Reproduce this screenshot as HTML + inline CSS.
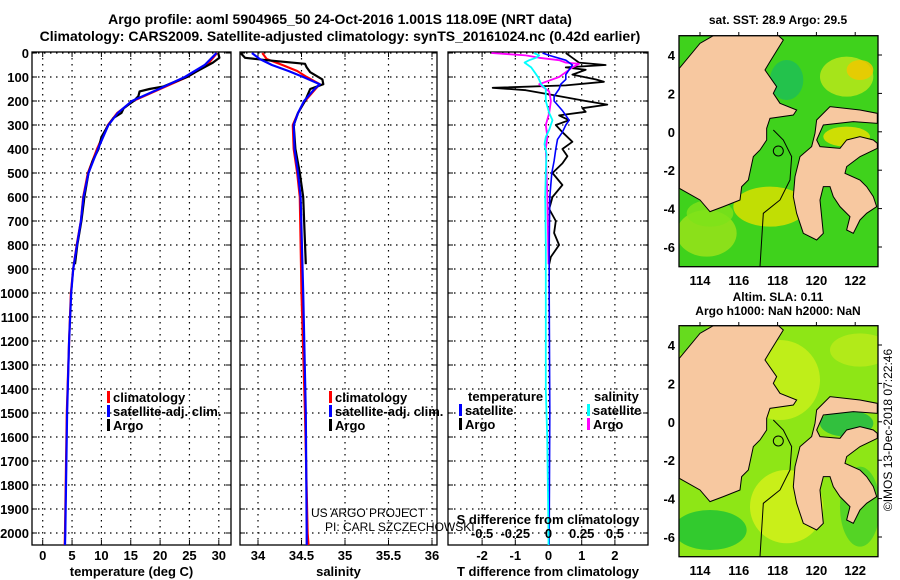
<!DOCTYPE html>
<html><head><meta charset="utf-8">
<style>
html,body{margin:0;padding:0;background:#fff;}
svg{display:block;font-family:"Liberation Sans",Arial,sans-serif;}
.b{font-weight:bold;font-size:13px;}
</style></head>
<body>
<svg id="c" width="900" height="580" viewBox="0 0 900 580" xmlns="http://www.w3.org/2000/svg">
<text x="340" y="24" text-anchor="middle" class="b" style="font-size:14px">Argo profile: aoml 5904965_50 24-Oct-2016 1.001S 118.09E (NRT data)</text>
<text x="340" y="41" text-anchor="middle" class="b" style="font-size:14px">Climatology: CARS2009. Satellite-adjusted climatology: synTS_20161024.nc (0.42d earlier)</text>
<g id="maps"></g>
<g id="plots"></g>
<text transform="translate(892,430) rotate(-90)" text-anchor="middle" style="font-size:12px">©IMOS 13-Dec-2018 07:22:46</text>
</svg>
<script>
// ---- data ----
const climDepth=[0,50,100,150,200,250,300,400,500,600,700,800,900,1000,1200,1500,2000,2050];
const climTemp=[29.7,28.0,24.6,20.0,15.4,12.7,11.1,9.25,7.7,6.9,6.5,5.8,5.2,4.8,4.5,4.1,3.8,3.75];
const satTemp=[29.6,27.6,24.2,19.8,15.2,12.8,11.2,9.4,7.8,6.95,6.5,5.85,5.2,4.85,4.5,4.15,3.85,3.8];
const argoDepth=[0,20,40,60,80,100,120,140,150,160,180,200,230,250,270,300,350,400,450,500,600,700,800,880];
const argoTemp=[29.9,30.1,29.0,27.5,26.0,24.6,22.5,20.5,18.2,16.5,16.3,15.5,13.8,13.4,12.1,11.2,10.0,9.5,8.5,7.8,7.1,6.6,5.9,5.5];
const climSalDepth=[0,25,50,75,100,130,150,200,250,300,400,500,600,1000,1500,2000,2050];
const climSal=[34.05,34.1,34.28,34.45,34.56,34.71,34.66,34.54,34.46,34.4,34.41,34.45,34.48,34.5,34.54,34.57,34.58];
const satSal=[33.93,34.02,34.16,34.35,34.52,34.71,34.65,34.53,34.46,34.41,34.42,34.46,34.49,34.52,34.55,34.56,34.56];
const argoSalDepth=[0,20,30,45,60,80,110,130,150,200,250,300,400,500,600,880];
const argoSal=[33.8,33.85,34.1,34.54,34.56,34.6,34.74,34.75,34.6,34.54,34.46,34.41,34.43,34.48,34.52,34.55];
const dTDepthArgo=[0,20,40,50,60,70,90,110,120,135,145,155,170,185,200,215,230,245,260,280,300,330,370,400,430,460,500,550,600,650,700,750,800,850,880];
const dTArgo=[0.52,0.72,0.92,1.72,0.52,1.12,0.72,1.42,1.67,0.52,-1.68,-0.68,-0.08,0.52,1.12,1.77,1.02,1.12,0.32,0.62,0.22,0.42,0.72,0.42,0.57,0.42,0.12,0.42,0.12,0.02,0.22,0.17,0.32,0.07,0.02];
const dTDepthSat=[0,10,30,50,70,90,110,130,150,180,200,240,260,280,300,330,360,400,450,500,600,800,1000,1500,2000,2050];
const dTSat=[-0.18,0.02,0.52,0.72,0.62,0.52,0.52,0.37,0.32,0.17,0.17,0.42,0.52,0.62,0.52,0.42,0.27,0.22,0.17,0.1,0.04,0.02,0.02,0.04,0.02,0.02];
const dSDepthArgo=[0,5,10,20,30,40,45,60,80,100,120,130,140,160,200,250,300,350,400,500,600,880];
const dSArgo=[-0.43,-0.30,-0.17,-0.07,0.08,0.13,0.23,0.18,0.13,0.08,-0.02,-0.07,-0.045,0.005,0.018,0.005,-0.02,-0.008,-0.02,-0.015,-0.008,0];
const dSDepthSat=[0,10,20,30,40,60,80,100,130,150,200,250,280,320,350,380,420,500,600,800,1000,1400,1600,2000,2050];
const dSSat=[-0.11,-0.07,-0.095,-0.145,-0.18,-0.13,-0.105,-0.08,-0.055,-0.02,-0.02,0.005,0.03,0.005,-0.02,-0.03,-0.015,-0.02,-0.025,-0.02,-0.02,-0.02,-0.01,0,0];
const depthTicks=[0,100,200,300,400,500,600,700,800,900,1000,1100,1200,1300,1400,1500,1600,1700,1800,1900,2000];
const tempTicks=[0,5,10,15,20,25,30];
const salTicks=[34,34.5,35,35.5,36];
const dTTicks=[-2,-1,0,1,2];
const dSTicks=[-0.5,-0.25,0,0.25,0.5];
const dSTickLabels=["-0.5","-0.25","0","0.25","0.5"];

const NS="http://www.w3.org/2000/svg";
const plots=document.getElementById('plots');
function mk(tag,attrs,parent){const e=document.createElementNS(NS,tag);for(const k in attrs)e.setAttribute(k,attrs[k]);(parent||plots).appendChild(e);return e;}
const yD=d=>53+d*0.24;
const TOP=52,BOT=545;
const xT=t=>42.7+t*5.87;
const xS=s=>258+(s-34)*87;
const xDT=t=>548.5+t*33.2;
const xDS=s=>548.5+s*132.8;

function panel(name,x0,x1,ticks,xf,labels,title,ydepthLabels){
  const g=mk('g',{});
  
  
  depthTicks.forEach(d=>{const l=mk('line',{x1:x0,x2:x1,y1:yD(d),y2:yD(d),stroke:'#000','stroke-dasharray':'1.5,4.5','stroke-width':1.2},g);
    
    mk('line',{x1:x0,x2:x0+5,y1:yD(d),y2:yD(d),stroke:'#000'},g);mk('line',{x1:x1-5,x2:x1,y1:yD(d),y2:yD(d),stroke:'#000'},g);
    if(ydepthLabels){const t=mk('text',{x:x0-3,y:yD(d)+5,'text-anchor':'end',class:'b'},g);t.textContent=d;
      }
  });
  ticks.forEach((v,i)=>{const x=xf(v);mk('line',{x1:x,x2:x,y1:TOP,y2:BOT,stroke:'#000','stroke-dasharray':'1.5,4.5','stroke-width':1.2},g);
    mk('line',{x1:x,x2:x,y1:BOT-5,y2:BOT,stroke:'#000'},g);mk('line',{x1:x,x2:x,y1:TOP,y2:TOP+5,stroke:'#000'},g);
    if(labels){const t=mk('text',{x:x,y:560,'text-anchor':'middle',class:'b'},g);t.textContent=labels[i];
      }
  });
  mk('rect',{x:x0,y:TOP,width:x1-x0,height:BOT-TOP,fill:'none',stroke:'#000','stroke-width':1.3},g);
  const tt=mk('text',{x:(x0+x1)/2,y:576,'text-anchor':'middle',class:'b'},g);tt.textContent=title;
  
  return g;
}
function line(g,name,depths,vals,xf,color,w){
  const pts=depths.map((d,i)=>xf(vals[i]).toFixed(1)+','+yD(d).toFixed(1)).join(' ');
  const p=mk('polyline',{points:pts,fill:'none',stroke:color,'stroke-width':w||2.2,'stroke-linejoin':'round'},g);
  
}
function legend(g,x,y,color,text,name){
  mk('rect',{x:x,y:y-11,width:3,height:12,fill:color},g);
  const t=mk('text',{x:x+6,y:y,class:'b'},g);t.textContent=text;
  
}
// panel 1
const g1=panel('temperature-panel',32,231,tempTicks,xT,tempTicks,'temperature (deg C)',true);
line(g1,'temp-climatology-line',climDepth,climTemp,xT,'#f00');
line(g1,'temp-argo-line',argoDepth,argoTemp,xT,'#000');
line(g1,'temp-satellite-line',climDepth,satTemp,xT,'#00f');
legend(g1,107,402,'#f00','climatology','legend-climatology');
legend(g1,107,416,'#00f','satellite-adj. clim.','legend-satellite');
legend(g1,107,430,'#000','Argo','legend-argo');
// panel 2
const g2=panel('salinity-panel',240,437,salTicks,xS,salTicks,'salinity',false);
line(g2,'sal-climatology-line',climSalDepth,climSal,xS,'#f00');
line(g2,'sal-argo-line',argoSalDepth,argoSal,xS,'#000');
line(g2,'sal-satellite-line',climSalDepth,satSal,xS,'#00f');
legend(g2,329,402,'#f00','climatology','legend-sal-climatology');
legend(g2,329,416,'#00f','satellite-adj. clim.','legend-sal-satellite');
legend(g2,329,430,'#000','Argo','legend-sal-argo');
const u1=mk('text',{x:311,y:517,style:'font-size:12px'},g2);u1.textContent='US ARGO PROJECT';

const u2=mk('text',{x:325,y:531,style:'font-size:12px'},g2);u2.textContent='PI: CARL SZCZECHOWSKI';

// panel 3
const g3=panel('difference-panel',448,648,dTTicks,xDT,dTTicks,'T difference from climatology',false);
line(g3,'dT-argo-line',dTDepthArgo,dTArgo,xDT,'#000',1.8);
line(g3,'dS-argo-line',dSDepthArgo,dSArgo,xDS,'#f0f',1.8);
line(g3,'dT-satellite-line',dTDepthSat,dTSat,xDT,'#00f',1.6);
line(g3,'dS-satellite-line',dSDepthSat,dSSat,xDS,'#0ff',1.8);
const h1=mk('text',{x:468,y:401,class:'b'},g3);h1.textContent='temperature';

legend(g3,459,415,'#00f','satellite','legend-t-satellite');
legend(g3,459,429,'#000','Argo','legend-t-argo');
const h2=mk('text',{x:594,y:401,class:'b'},g3);h2.textContent='salinity';

legend(g3,587,415,'#0ff','satellite','legend-s-satellite');
legend(g3,587,429,'#f0f','Argo','legend-s-argo');
const st=mk('text',{x:548,y:524,'text-anchor':'middle',class:'b'},g3);st.textContent='S difference from climatology';

dSTicks.forEach((v,i)=>{const t=mk('text',{x:xDS(v),y:538,'text-anchor':'middle',class:'b'},g3);t.textContent=dSTickLabels[i];
  });

// ---- maps ----
const maps=document.getElementById('maps');
const borneo="58,205 120,130 160,107 355,107 370,120 330,185 315,210 350,260 340,280 360,310 410,330 400,345 330,355 320,385 320,420 300,450 280,470 265,540 245,560 240,600 190,620 150,635 120,600 58,565";
const sulawesi="470,360 510,320 600,330 652,340 652,370 580,365 490,375 470,420 480,440 540,445 560,420 600,410 640,420 652,430 652,445 600,470 560,500 555,520 600,540 620,560 640,590 650,620 620,640 600,660 580,700 560,690 570,650 540,620 520,590 510,560 490,560 480,600 490,700 470,720 430,700 410,640 400,590 405,530 420,470 455,440 465,400";
function map(name,oy,base,patches,title1,title2){
  const g=mk('g',{},maps);
  
  const c=mk('clipPath',{id:'clip'+oy},g);mk('rect',{x:679,y:oy+35.7,width:199,height:231},c);
  const inner=mk('g',{'clip-path':'url(#clip'+oy+')'},g);
  mk('rect',{x:679,y:oy+35.7,width:199,height:231,fill:base},inner);
  const z=mk('g',{transform:'translate(660,'+oy+') scale(0.3333)'},inner);
  patches.forEach(p=>mk('ellipse',{cx:p[0],cy:p[1],rx:p[2],ry:p[3],fill:p[4],opacity:0.85},z));
  mk('path',{d:'M300,800 L310,640 L360,600 L390,540 L395,470 L370,420 L340,390',fill:'none',stroke:'#000','stroke-width':3},z);
  mk('circle',{cx:355,cy:453,r:15,fill:'none',stroke:'#000','stroke-width':3},z);
  mk('polygon',{points:borneo,fill:'#f7c8a0',stroke:'#000','stroke-width':3},z);
  mk('polygon',{points:sulawesi,fill:'#f7c8a0',stroke:'#000','stroke-width':3},z);
  mk('rect',{x:679,y:oy+35.7,width:199,height:231,fill:'none',stroke:'#000','stroke-width':1.3},g);
  [114,116,118,120,122].forEach(lon=>{const x=700+(lon-114)*19.4;
    mk('line',{x1:x,x2:x,y1:oy+35.7,y2:oy+32,stroke:'#000'},g);
    const t=mk('text',{x:x,y:oy+285,'text-anchor':'middle',class:'b'},g);t.textContent=lon;
    });
  [4,2,0,-2,-4,-6].forEach(lat=>{const y=oy+55+(4-lat)*19.2;
    mk('line',{x1:878,x2:882,y1:y,y2:y,stroke:'#000'},g);
    const t=mk('text',{x:675,y:y+5,'text-anchor':'end',class:'b'},g);t.textContent=lat;
    });
  const t1=mk('text',{x:778,y:oy+(title2?11:24),'text-anchor':'middle',class:'b',style:'font-size:12px'},g);t1.textContent=title1;
  
  if(title2){const t2=mk('text',{x:778,y:oy+25,'text-anchor':'middle',class:'b',style:'font-size:12px'},g);t2.textContent=title2;
    }
}
map('sst-map',0,'#3fd21c',[[560,230,80,60,'#b8e81a'],[600,210,40,30,'#f0c800'],[330,620,110,60,'#d8e000'],[140,700,90,70,'#99e31a'],[560,410,70,30,'#e8e000'],[380,240,50,60,'#1fbf55'],[150,640,70,40,'#7ee21a']],'sat. SST: 28.9 Argo: 29.5');
map('sla-map',290,'#8ee616',[[360,270,120,120,'#c8ef1a'],[380,650,110,110,'#d4f01a'],[560,400,80,40,'#22b845'],[150,720,110,60,'#22c433'],[600,650,60,120,'#4ad028'],[600,180,90,50,'#b8ea1a'],[100,150,60,50,'#5fd820']],'Altim. SLA: 0.11','Argo h1000: NaN h2000: NaN');
</script>
</body></html>
